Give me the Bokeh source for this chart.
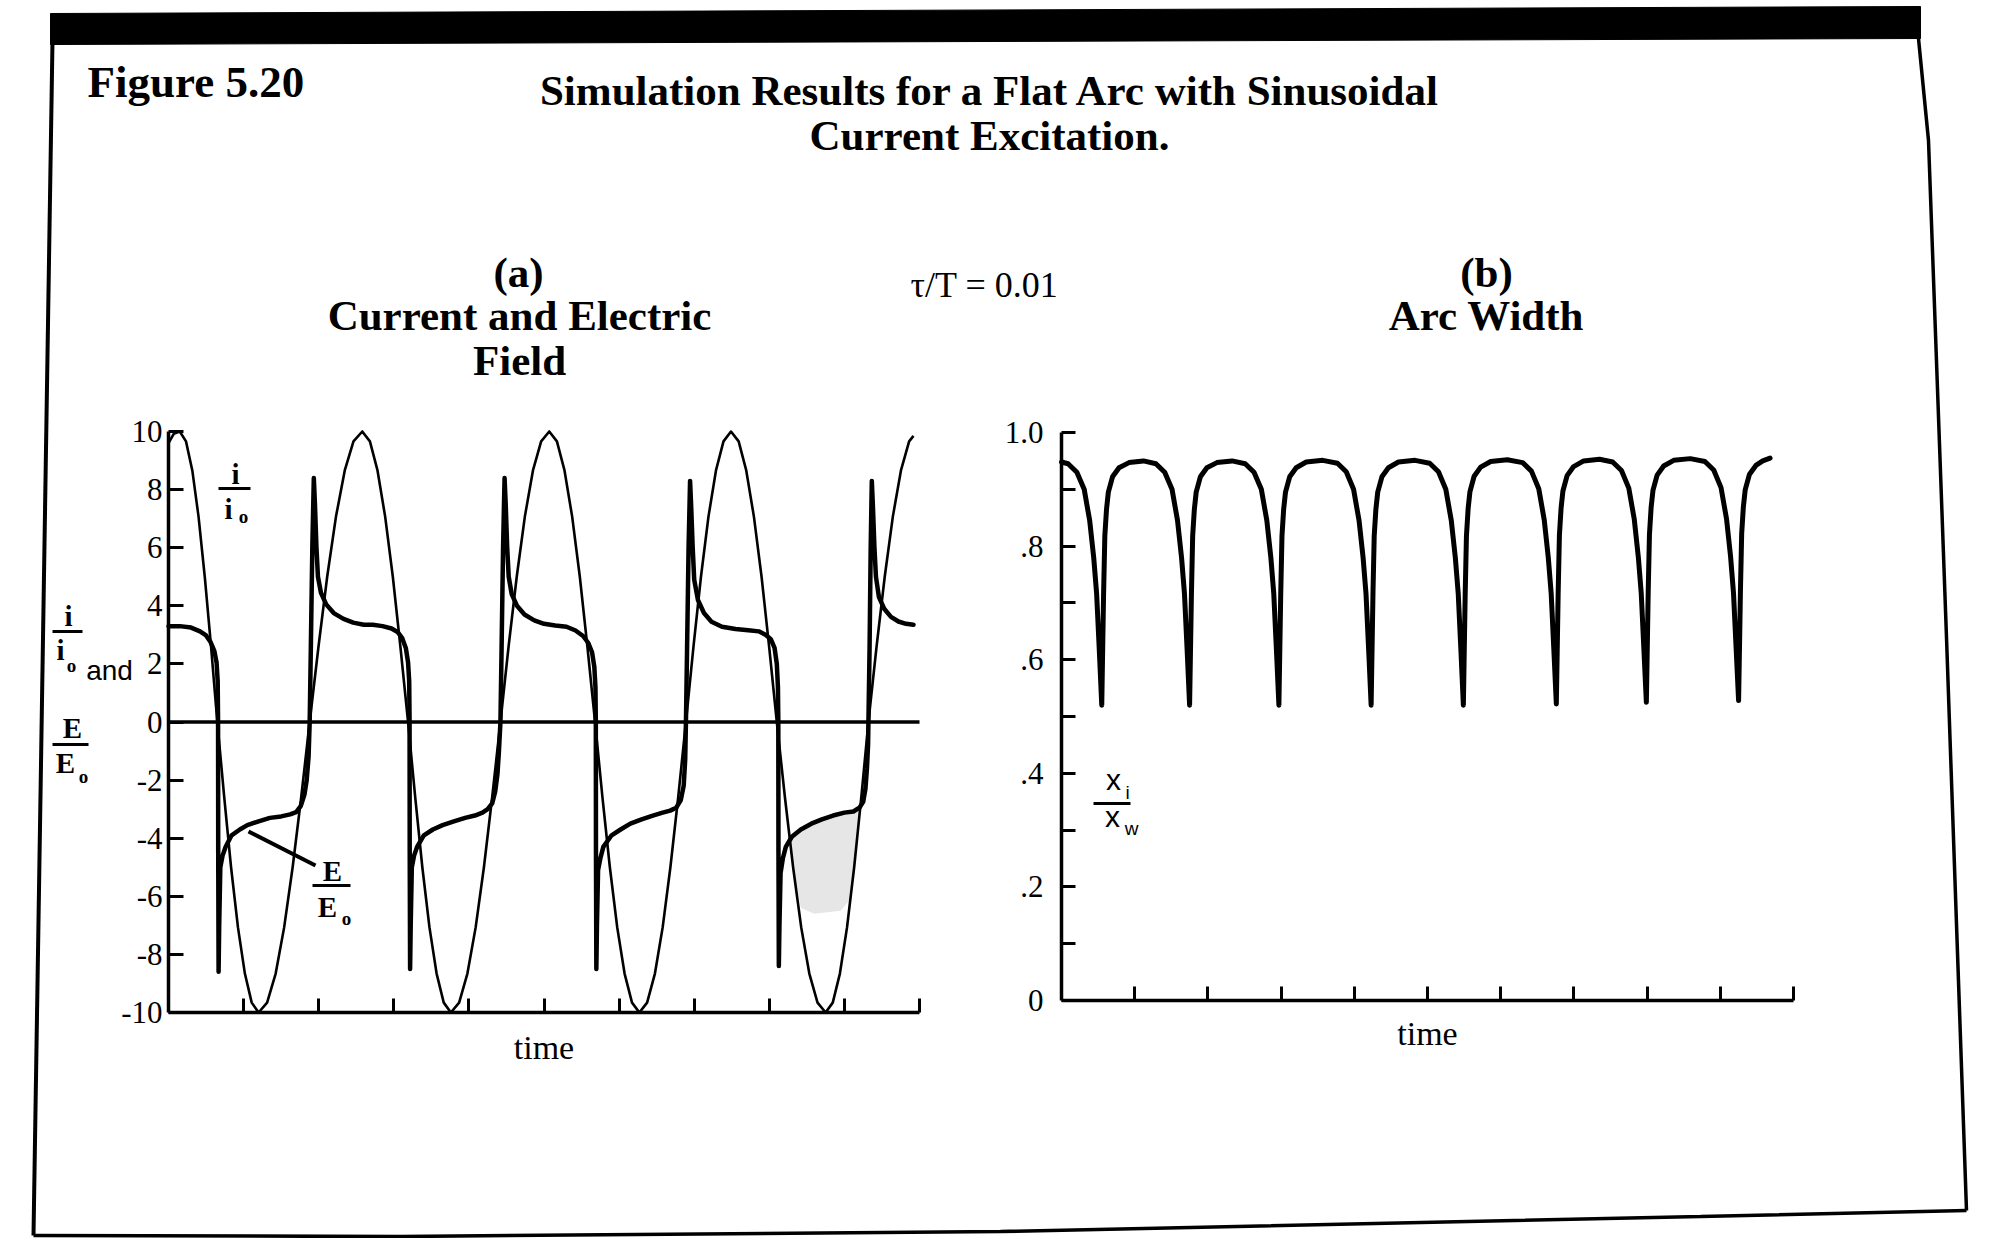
from bokeh.plotting import figure
from bokeh.models import Range1d, LinearAxis, FixedTicker
from bokeh.core.properties import value
from bokeh.embed import file_html
from bokeh.resources import INLINE

# ---------------- data ----------------
# (a) current  i/io  versus time
cur_t = [0.00, 0.07, 0.15,
         0.233, 0.317, 0.40, 0.483, 0.567, 0.65,
         0.742, 0.833, 0.925, 1.017, 1.108, 1.20,
         1.313, 1.427, 1.54, 1.653, 1.767, 1.88,
         1.997, 2.113, 2.23, 2.347, 2.463, 2.58,
         2.682, 2.783, 2.885, 2.987, 3.088, 3.19,
         3.285, 3.38, 3.475, 3.57, 3.665, 3.76,
         3.87, 3.98, 4.09, 4.20, 4.31, 4.42,
         4.528, 4.637, 4.745, 4.853, 4.962, 5.07,
         5.172, 5.273, 5.375, 5.477, 5.578, 5.68,
         5.778, 5.877, 5.975, 6.073, 6.172, 6.27,
         6.373, 6.477, 6.58, 6.683, 6.787, 6.89,
         6.99, 7.09, 7.19, 7.29, 7.39, 7.49,
         7.592, 7.693, 7.795, 7.897, 7.998, 8.10,
         8.208, 8.317, 8.425, 8.533, 8.642, 8.75,
         8.845, 8.94, 9.035, 9.13, 9.225, 9.32,
         9.428, 9.537, 9.645, 9.753, 9.862, 9.92]
cur_v = [9.6, 9.92, 10.0,
         9.66, 8.66, 7.07, 5.0, 2.59, 0.0,
         -2.59, -5.0, -7.07, -8.66, -9.66, -10.0,
         -9.66, -8.66, -7.07, -5.0, -2.59, 0.0,
         2.59, 5.0, 7.07, 8.66, 9.66, 10.0,
         9.66, 8.66, 7.07, 5.0, 2.59, 0.0,
         -2.59, -5.0, -7.07, -8.66, -9.66, -10.0,
         -9.66, -8.66, -7.07, -5.0, -2.59, 0.0,
         2.59, 5.0, 7.07, 8.66, 9.66, 10.0,
         9.66, 8.66, 7.07, 5.0, 2.59, 0.0,
         -2.59, -5.0, -7.07, -8.66, -9.66, -10.0,
         -9.66, -8.66, -7.07, -5.0, -2.59, 0.0,
         2.59, 5.0, 7.07, 8.66, 9.66, 10.0,
         9.66, 8.66, 7.07, 5.0, 2.59, 0.0,
         -2.59, -5.0, -7.07, -8.66, -9.66, -10.0,
         -9.66, -8.66, -7.07, -5.0, -2.59, 0.0,
         2.59, 5.0, 7.07, 8.66, 9.66, 9.85]

# (a) electric field  E/Eo  versus time
ef_t = [0.00, 0.15, 0.30, 0.42, 0.50, 0.56, 0.61, 0.64, 0.655, 0.66,
        0.662, 0.667, 0.675, 0.69, 0.72, 0.76, 0.84, 0.95, 1.05, 1.20, 1.35, 1.50, 1.62, 1.70, 1.76, 1.81, 1.84, 1.865, 1.88,
        1.895, 1.915, 1.935, 1.95, 1.97, 1.99, 2.03, 2.10, 2.20, 2.33, 2.46, 2.60, 2.72, 2.85, 2.97, 3.05, 3.11, 3.16, 3.19, 3.205, 3.21,
        3.212, 3.217, 3.225, 3.24, 3.27, 3.31, 3.40, 3.52, 3.65, 3.80, 3.95, 4.08, 4.18, 4.25, 4.31, 4.35, 4.38, 4.40, 4.42,
        4.435, 4.455, 4.475, 4.49, 4.51, 4.53, 4.57, 4.64, 4.74, 4.87, 5.00, 5.15, 5.30, 5.42, 5.52, 5.59, 5.64, 5.67, 5.685, 5.69,
        5.692, 5.697, 5.705, 5.72, 5.75, 5.79, 5.90, 6.02, 6.15, 6.30, 6.45, 6.58, 6.68, 6.76, 6.82, 6.86, 6.88, 6.89,
        6.905, 6.925, 6.945, 6.96, 6.98, 7.00, 7.05, 7.13, 7.23, 7.37, 7.55, 7.72, 7.86, 7.95, 8.02, 8.07, 8.10, 8.115, 8.12,
        8.122, 8.127, 8.135, 8.15, 8.18, 8.22, 8.30, 8.42, 8.56, 8.70, 8.85, 9.00, 9.12, 9.20, 9.25, 9.28, 9.30, 9.315, 9.32,
        9.335, 9.35, 9.365, 9.38, 9.40, 9.42, 9.46, 9.53, 9.62, 9.72, 9.82, 9.92]
ef_v = [3.30, 3.30, 3.25, 3.12, 2.98, 2.75, 2.45, 2.05, 1.40, 0.0,
        -4.5, -8.6, -7.0, -5.0, -4.6, -4.3, -3.9, -3.7, -3.55, -3.42, -3.30, -3.25, -3.18, -3.10, -2.90, -2.50, -2.00, -1.20, 0.0,
        2.5, 6.0, 8.4, 7.5, 6.0, 5.0, 4.45, 4.05, 3.75, 3.55, 3.42, 3.35, 3.35, 3.30, 3.22, 3.10, 2.90, 2.55, 2.05, 1.40, 0.0,
        -4.5, -8.5, -7.0, -5.0, -4.6, -4.3, -3.9, -3.7, -3.55, -3.42, -3.30, -3.22, -3.12, -3.00, -2.80, -2.40, -1.80, -1.00, 0.0,
        2.5, 6.0, 8.4, 7.5, 6.0, 5.0, 4.40, 4.00, 3.70, 3.50, 3.38, 3.32, 3.28, 3.15, 2.96, 2.72, 2.40, 1.90, 1.20, 0.0,
        -4.5, -8.5, -7.0, -5.1, -4.7, -4.3, -3.9, -3.7, -3.50, -3.35, -3.22, -3.12, -3.05, -2.95, -2.70, -2.20, -1.30, 0.0,
        2.5, 6.0, 8.3, 7.4, 6.0, 4.9, 4.20, 3.75, 3.45, 3.28, 3.20, 3.16, 3.12, 3.00, 2.85, 2.55, 2.00, 1.20, 0.0,
        -4.5, -8.4, -7.0, -5.2, -4.7, -4.3, -3.95, -3.7, -3.50, -3.35, -3.22, -3.12, -3.08, -2.95, -2.75, -2.30, -1.60, -0.80, 0.0,
        2.5, 6.0, 8.3, 7.4, 6.0, 5.0, 4.30, 3.90, 3.62, 3.46, 3.38, 3.35]

# light grey tint between the curves in the last negative half cycle
shade_t = [8.275, 8.30, 8.42, 8.56, 8.70, 8.85, 9.00, 9.12, 9.21, 9.13, 9.08, 8.95, 8.60, 8.42, 8.317]
shade_v = [-4.05, -3.95, -3.70, -3.50, -3.35, -3.22, -3.12, -3.08, -3.00, -5.00, -6.10, -6.50, -6.60, -6.40, -5.00]

# (b) arc width  xi/xw  versus time
aw_t = [0.00, 0.09, 0.21, 0.31, 0.385, 0.44, 0.48, 0.517, 0.55,
        0.562, 0.575, 0.592, 0.615, 0.64, 0.697, 0.786, 0.923, 1.12, 1.29, 1.41, 1.51, 1.585, 1.64, 1.68, 1.717, 1.75,
        1.762, 1.775, 1.792, 1.815, 1.84, 1.897, 1.986, 2.123, 2.33, 2.51, 2.63, 2.73, 2.805, 2.86, 2.90, 2.937, 2.97,
        2.982, 2.995, 3.012, 3.035, 3.06, 3.117, 3.206, 3.343, 3.57, 3.77, 3.89, 3.99, 4.065, 4.12, 4.16, 4.197, 4.23,
        4.242, 4.255, 4.272, 4.295, 4.32, 4.377, 4.466, 4.603, 4.83, 5.03, 5.15, 5.25, 5.325, 5.38, 5.42, 5.457, 5.49,
        5.502, 5.515, 5.532, 5.555, 5.58, 5.637, 5.726, 5.863, 6.09, 6.30, 6.42, 6.52, 6.595, 6.65, 6.69, 6.727, 6.76,
        6.772, 6.785, 6.802, 6.825, 6.85, 6.907, 6.996, 7.133, 7.35, 7.53, 7.65, 7.75, 7.825, 7.88, 7.92, 7.957, 7.99,
        8.002, 8.015, 8.032, 8.055, 8.08, 8.137, 8.226, 8.363, 8.59, 8.79, 8.91, 9.01, 9.085, 9.14, 9.18, 9.217, 9.25,
        9.262, 9.275, 9.292, 9.315, 9.34, 9.397, 9.486, 9.58, 9.68]
aw_v = [0.948, 0.945, 0.930, 0.900, 0.845, 0.780, 0.716, 0.615, 0.52,
        0.615, 0.716, 0.818, 0.865, 0.895, 0.922, 0.938, 0.947, 0.950, 0.945, 0.930, 0.900, 0.845, 0.780, 0.716, 0.615, 0.52,
        0.615, 0.716, 0.818, 0.865, 0.895, 0.922, 0.938, 0.947, 0.950, 0.945, 0.930, 0.900, 0.845, 0.780, 0.716, 0.615, 0.52,
        0.615, 0.716, 0.818, 0.865, 0.895, 0.922, 0.938, 0.948, 0.951, 0.946, 0.931, 0.900, 0.845, 0.780, 0.716, 0.615, 0.52,
        0.615, 0.716, 0.818, 0.865, 0.895, 0.922, 0.938, 0.948, 0.951, 0.946, 0.931, 0.900, 0.845, 0.780, 0.716, 0.615, 0.52,
        0.615, 0.716, 0.818, 0.866, 0.896, 0.923, 0.939, 0.949, 0.952, 0.947, 0.932, 0.901, 0.846, 0.780, 0.716, 0.615, 0.522,
        0.616, 0.717, 0.819, 0.867, 0.897, 0.924, 0.940, 0.950, 0.953, 0.948, 0.933, 0.902, 0.847, 0.781, 0.717, 0.616, 0.525,
        0.618, 0.719, 0.820, 0.868, 0.898, 0.925, 0.941, 0.951, 0.954, 0.949, 0.934, 0.903, 0.848, 0.782, 0.718, 0.618, 0.528,
        0.620, 0.721, 0.822, 0.869, 0.899, 0.926, 0.942, 0.950, 0.955]

a_yticks = [-10, -8, -6, -4, -2, 0, 2, 4, 6, 8, 10]
a_ylabels = ["-10", "-8", "-6", "-4", "-2", "0", "2", "4", "6", "8", "10"]
b_yticks = [0.0, 0.2, 0.4, 0.6, 0.8, 1.0]
b_ylabels = ["0", ".2", ".4", ".6", ".8", "1.0"]
b_yminor = [0.1, 0.3, 0.5, 0.7, 0.9]
time_ticks = [1, 2, 3, 4, 5, 6, 7, 8, 9, 10]

# ---------------- page geometry (screen pixels) ----------------
W, H = 1980, 1238
LEFT, RIGHT, TOP, BOTTOM = 0, W, 0, H
BL = 0.35   # shift of the rendered alphabetic baseline, in em

def span(p0, v0, p1, v1, lo, hi):
    k = (v1 - v0) / (p1 - p0)
    return Range1d(start=v0 + (lo - p0) * k, end=v0 + (hi - p0) * k)

SERIF = value("Liberation Serif")
SANS = value("Liberation Sans")

p = figure(width=W, height=H, output_backend="svg", toolbar_location=None,
           x_range=Range1d(LEFT, RIGHT), y_range=Range1d(BOTTOM, TOP),
           x_axis_type=None, y_axis_type=None, min_border=0)
p.outline_line_color = None
p.background_fill_color = "white"
p.border_fill_color = "white"

p.extra_x_ranges = {"ta": span(168, 0, 919, 10, LEFT, RIGHT),
                    "tb": span(1061, 0, 1793, 10, LEFT, RIGHT)}
p.extra_y_ranges = {"ya": span(1012, -10, 431, 10, BOTTOM, TOP),
                    "yb": span(1000, 0, 432, 1, BOTTOM, TOP)}

def txt(xs, ys, texts, size, font=SERIF, bold=False, align="center"):
    p.text(x=xs, y=[y - BL * size for y in ys], text=texts, text_font=font,
           text_font_style="bold" if bold else "normal", text_font_size=f"{size}px",
           text_align=align, text_baseline="alphabetic", text_color="black")

# ---------------- page frame of the scanned sheet ----------------
p.patch([50, 1920, 1920, 50], [13, 6, 38, 44], color="black")
p.line([52, 33], [40, 1235], line_color="black", line_width=4)
p.line([33, 400, 1000, 1700, 1966], [1235, 1236, 1231, 1216, 1210], line_color="black", line_width=3.5)
p.line([1918, 1928, 1946, 1966], [38, 140, 637, 1210], line_color="black", line_width=3.5)

# ---------------- header texts ----------------
txt([87], [97], ["Figure 5.20"], 45, bold=True, align="left")
txt([990, 989], [105, 150], ["Simulation Results for a Flat Arc with Sinusoidal", "Current Excitation."], 43, bold=True)
txt([518, 519, 519, 1486, 1486], [287, 330, 375, 287, 330],
    ["(a)", "Current and Electric", "Field", "(b)", "Arc Width"], 43, bold=True)
txt([984], [297], ["\u03c4/T = 0.01"], 36)

# ---------------- panel (a) ----------------
p.patch(shade_t, shade_v, x_range_name="ta", y_range_name="ya",
        fill_color="#e6e6e6", line_color=None)
p.line([0, 10], [0, 0], x_range_name="ta", y_range_name="ya", line_color="black", line_width=3.5)
p.line(cur_t, cur_v, x_range_name="ta", y_range_name="ya", line_color="black",
       line_width=2.6, line_join="round")
p.line(ef_t, ef_v, x_range_name="ta", y_range_name="ya", line_color="black",
       line_width=4.5, line_join="round", line_cap="round")

def style_axis(ax):
    ax.axis_line_width = 3.5
    ax.axis_line_color = "black"
    ax.major_tick_line_width = 3
    ax.minor_tick_line_width = 3
    ax.major_tick_out = 0
    ax.minor_tick_out = 0
    ax.major_label_text_font = "Liberation Serif"
    ax.major_label_text_font_size = "31px"
    ax.major_label_text_color = "black"
    ax.axis_label_text_font = "Liberation Serif"
    ax.axis_label_text_font_style = "normal"
    ax.axis_label_text_font_size = "34px"
    ax.axis_label_text_color = "black"

ya_ax = LinearAxis(x_range_name="ta", y_range_name="ya", fixed_location=0, bounds=(-10, 10),
                   ticker=FixedTicker(ticks=a_yticks, minor_ticks=[]),
                   major_label_overrides=dict(zip(a_yticks, a_ylabels)))
style_axis(ya_ax)
ya_ax.major_tick_in = 15
ya_ax.minor_tick_in = 0
ya_ax.major_label_standoff = 6
p.add_layout(ya_ax, "left")

xa_ax = LinearAxis(x_range_name="ta", y_range_name="ya", fixed_location=-10, bounds=(0, 10),
                   ticker=FixedTicker(ticks=time_ticks, minor_ticks=[]),
                   major_label_overrides={t: "" for t in time_ticks}, axis_label="time")
style_axis(xa_ax)
xa_ax.major_tick_in = 14
xa_ax.minor_tick_in = 0
xa_ax.axis_label_standoff = 16
p.add_layout(xa_ax, "below")

# curve labels in panel (a)
txt([235, 228, 332, 327], [484, 519, 881, 917], ["i", "i", "E", "E"], 29, bold=True)
txt([243, 346], [523, 925], ["o", "o"], 19, bold=True)
p.segment(x0=[218, 312, 248], y0=[488, 885, 831], x1=[250, 350, 315], y1=[488, 885, 865],
          line_color="black", line_width=[3, 3, 4])

# y label of panel (a):  i/io and E/Eo
txt([68, 60, 72, 65], [626, 660, 738, 773], ["i", "i", "E", "E"], 29, bold=True)
txt([71, 83], [672, 783], ["o", "o"], 19, bold=True)
txt([109], [680], ["and"], 28, font=SANS)
p.segment(x0=[52, 52], y0=[631, 744], x1=[82, 88], y1=[631, 744], line_color="black", line_width=3)

# ---------------- panel (b) ----------------
p.line(aw_t, aw_v, x_range_name="tb", y_range_name="yb", line_color="black",
       line_width=5, line_join="round", line_cap="round")

yb_ax = LinearAxis(x_range_name="tb", y_range_name="yb", fixed_location=0, bounds=(0, 1),
                   ticker=FixedTicker(ticks=b_yticks, minor_ticks=b_yminor),
                   major_label_overrides=dict(zip(b_yticks, b_ylabels)))
style_axis(yb_ax)
yb_ax.major_tick_in = 14
yb_ax.minor_tick_in = 14
yb_ax.major_label_standoff = 18
p.add_layout(yb_ax, "left")

xb_ax = LinearAxis(x_range_name="tb", y_range_name="yb", fixed_location=0, bounds=(0, 10),
                   ticker=FixedTicker(ticks=time_ticks, minor_ticks=[]),
                   major_label_overrides={t: "" for t in time_ticks}, axis_label="time")
style_axis(xb_ax)
xb_ax.major_tick_in = 14
xb_ax.minor_tick_in = 0
xb_ax.axis_label_standoff = 14
p.add_layout(xb_ax, "below")

txt([1113, 1112], [789, 826], ["x", "x"], 30, font=SANS)
txt([1127, 1131], [799, 835], ["i", "w"], 19, font=SANS)
p.segment(x0=[1093], y0=[803], x1=[1130], y1=[803], line_color="black", line_width=3)

open("out.html", "w").write(file_html(p, INLINE))
